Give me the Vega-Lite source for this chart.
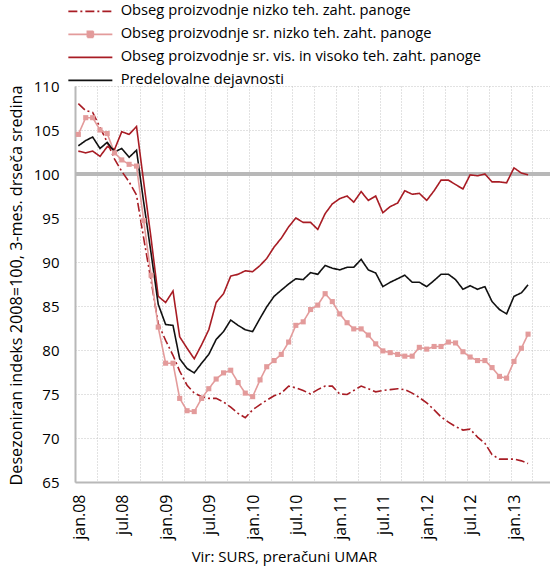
{
  "$schema": "https://vega.github.io/schema/vega-lite/v6.json",
  "width": 475,
  "height": 396,
  "autosize": {"type": "none"},
  "padding": {"left": 75, "top": 86, "right": 0, "bottom": 86},
  "config": {
    "font": "Open Sans",
    "view": {"stroke": null},
    "axis": {"labelColor": "#000", "titleColor": "#000", "titleFontWeight": "normal"}
  },
  "data": {"values": [
    {"month": "2008-01-15", "nizko": 108.0, "srnizko": 104.5, "srvis": 102.6, "predel": 103.2},
    {"month": "2008-02-15", "nizko": 107.2, "srnizko": 106.4, "srvis": 102.4, "predel": 103.8},
    {"month": "2008-03-15", "nizko": 107.0, "srnizko": 106.4, "srvis": 102.6, "predel": 104.2},
    {"month": "2008-04-15", "nizko": 105.3, "srnizko": 105.0, "srvis": 102.0, "predel": 102.9},
    {"month": "2008-05-15", "nizko": 103.6, "srnizko": 104.6, "srvis": 103.1, "predel": 103.6},
    {"month": "2008-06-15", "nizko": 101.7, "srnizko": 102.4, "srvis": 102.8, "predel": 102.5},
    {"month": "2008-07-15", "nizko": 100.3, "srnizko": 101.6, "srvis": 104.8, "predel": 102.9},
    {"month": "2008-08-15", "nizko": 99.1, "srnizko": 101.1, "srvis": 104.5, "predel": 101.9},
    {"month": "2008-09-15", "nizko": 97.6, "srnizko": 100.9, "srvis": 105.4, "predel": 102.7},
    {"month": "2008-10-15", "nizko": 92.7, "srnizko": 94.7, "srvis": 99.1, "predel": 96.8},
    {"month": "2008-11-15", "nizko": 87.9, "srnizko": 88.5, "srvis": 92.7, "predel": 91.0},
    {"month": "2008-12-15", "nizko": 83.0, "srnizko": 82.6, "srvis": 86.1, "predel": 85.2},
    {"month": "2009-01-15", "nizko": 81.1, "srnizko": 78.5, "srvis": 85.4, "predel": 82.9},
    {"month": "2009-02-15", "nizko": 79.4, "srnizko": 78.5, "srvis": 86.7, "predel": 82.8},
    {"month": "2009-03-15", "nizko": 77.6, "srnizko": 74.5, "srvis": 81.5, "predel": 79.0},
    {"month": "2009-04-15", "nizko": 76.0, "srnizko": 73.1, "srvis": 80.2, "predel": 77.9},
    {"month": "2009-05-15", "nizko": 75.1, "srnizko": 73.0, "srvis": 79.0, "predel": 77.4},
    {"month": "2009-06-15", "nizko": 74.7, "srnizko": 74.5, "srvis": 80.6, "predel": 78.5},
    {"month": "2009-07-15", "nizko": 74.5, "srnizko": 75.6, "srvis": 82.3, "predel": 79.5},
    {"month": "2009-08-15", "nizko": 74.5, "srnizko": 76.7, "srvis": 85.4, "predel": 81.2},
    {"month": "2009-09-15", "nizko": 74.1, "srnizko": 77.4, "srvis": 86.4, "predel": 82.1},
    {"month": "2009-10-15", "nizko": 73.5, "srnizko": 77.7, "srvis": 88.4, "predel": 83.4},
    {"month": "2009-11-15", "nizko": 72.8, "srnizko": 76.3, "srvis": 88.6, "predel": 82.8},
    {"month": "2009-12-15", "nizko": 72.3, "srnizko": 75.1, "srvis": 89.0, "predel": 82.3},
    {"month": "2010-01-15", "nizko": 73.2, "srnizko": 74.7, "srvis": 88.9, "predel": 82.1},
    {"month": "2010-02-15", "nizko": 73.8, "srnizko": 76.6, "srvis": 89.6, "predel": 83.6},
    {"month": "2010-03-15", "nizko": 74.3, "srnizko": 78.1, "srvis": 90.4, "predel": 84.9},
    {"month": "2010-04-15", "nizko": 74.8, "srnizko": 78.8, "srvis": 91.7, "predel": 86.1},
    {"month": "2010-05-15", "nizko": 75.1, "srnizko": 79.5, "srvis": 92.7, "predel": 86.8},
    {"month": "2010-06-15", "nizko": 75.9, "srnizko": 80.9, "srvis": 94.0, "predel": 87.5},
    {"month": "2010-07-15", "nizko": 75.7, "srnizko": 82.8, "srvis": 95.0, "predel": 88.1},
    {"month": "2010-08-15", "nizko": 75.4, "srnizko": 83.2, "srvis": 94.5, "predel": 88.0},
    {"month": "2010-09-15", "nizko": 75.0, "srnizko": 84.6, "srvis": 94.5, "predel": 88.8},
    {"month": "2010-10-15", "nizko": 75.5, "srnizko": 85.1, "srvis": 93.7, "predel": 88.6},
    {"month": "2010-11-15", "nizko": 75.9, "srnizko": 86.4, "srvis": 95.5, "predel": 89.6},
    {"month": "2010-12-15", "nizko": 75.9, "srnizko": 85.5, "srvis": 96.6, "predel": 89.3},
    {"month": "2011-01-15", "nizko": 75.0, "srnizko": 84.1, "srvis": 97.2, "predel": 89.1},
    {"month": "2011-02-15", "nizko": 74.95, "srnizko": 83.1, "srvis": 97.5, "predel": 89.4},
    {"month": "2011-03-15", "nizko": 75.4, "srnizko": 82.4, "srvis": 96.8, "predel": 89.4},
    {"month": "2011-04-15", "nizko": 75.9, "srnizko": 82.4, "srvis": 98.0, "predel": 90.3},
    {"month": "2011-05-15", "nizko": 75.6, "srnizko": 81.7, "srvis": 97.0, "predel": 89.1},
    {"month": "2011-06-15", "nizko": 75.25, "srnizko": 80.7, "srvis": 97.5, "predel": 88.75},
    {"month": "2011-07-15", "nizko": 75.4, "srnizko": 79.9, "srvis": 95.6, "predel": 87.2},
    {"month": "2011-08-15", "nizko": 75.5, "srnizko": 79.7, "srvis": 96.3, "predel": 87.7},
    {"month": "2011-09-15", "nizko": 75.6, "srnizko": 79.5, "srvis": 96.7, "predel": 88.1},
    {"month": "2011-10-15", "nizko": 75.5, "srnizko": 79.3, "srvis": 98.1, "predel": 88.5},
    {"month": "2011-11-15", "nizko": 75.1, "srnizko": 79.3, "srvis": 97.7, "predel": 87.7},
    {"month": "2011-12-15", "nizko": 74.6, "srnizko": 80.3, "srvis": 97.8, "predel": 87.7},
    {"month": "2012-01-15", "nizko": 74.0, "srnizko": 80.1, "srvis": 97.0, "predel": 87.2},
    {"month": "2012-02-15", "nizko": 73.2, "srnizko": 80.4, "srvis": 98.1, "predel": 87.9},
    {"month": "2012-03-15", "nizko": 72.4, "srnizko": 80.4, "srvis": 99.3, "predel": 88.6},
    {"month": "2012-04-15", "nizko": 71.8, "srnizko": 80.9, "srvis": 99.3, "predel": 88.6},
    {"month": "2012-05-15", "nizko": 71.3, "srnizko": 80.8, "srvis": 98.8, "predel": 88.0},
    {"month": "2012-06-15", "nizko": 70.9, "srnizko": 79.8, "srvis": 98.3, "predel": 86.9},
    {"month": "2012-07-15", "nizko": 71.0, "srnizko": 79.2, "srvis": 99.9, "predel": 87.3},
    {"month": "2012-08-15", "nizko": 70.1, "srnizko": 78.8, "srvis": 99.8, "predel": 86.9},
    {"month": "2012-09-15", "nizko": 69.4, "srnizko": 78.8, "srvis": 100.0, "predel": 87.2},
    {"month": "2012-10-15", "nizko": 68.1, "srnizko": 78.0, "srvis": 99.1, "predel": 85.5},
    {"month": "2012-11-15", "nizko": 67.6, "srnizko": 77.0, "srvis": 99.1, "predel": 84.6},
    {"month": "2012-12-15", "nizko": 67.6, "srnizko": 76.8, "srvis": 99.0, "predel": 84.1},
    {"month": "2013-01-15", "nizko": 67.6, "srnizko": 78.7, "srvis": 100.7, "predel": 86.1},
    {"month": "2013-02-15", "nizko": 67.4, "srnizko": 80.2, "srvis": 100.1, "predel": 86.5},
    {"month": "2013-03-15", "nizko": 67.1, "srnizko": 81.8, "srvis": 99.9, "predel": 87.4}
  ]},
  "transform": [
    {"fold": ["nizko", "srnizko", "srvis", "predel"], "as": ["key", "value"]}
  ],
  "layer": [
    {
      "mark": {"type": "rule", "color": "#b8b8b8", "strokeWidth": 2.5},
      "encoding": {"y": {"datum": 100, "type": "quantitative"}}
    },
    {
      "mark": {"type": "line", "strokeWidth": 1.6},
      "encoding": {
        "x": {
          "field": "month", "type": "temporal",
          "scale": {"type": "utc", "domain": [{"year": 2008, "month": 1, "date": 1, "utc": true}, {"year": 2013, "month": 6, "date": 15, "utc": true}]},
          "axis": {
            "tickCount": {"interval": "month", "step": 3},
            "grid": true, "gridColor": "#c4c4c4", "gridDash": [1, 2], "gridWidth": 1,
            "ticks": false,
            "domainColor": "#b8b8b8", "domainWidth": 2,
            "labelAngle": -90, "labelAlign": "right", "labelBaseline": "middle",
            "labelOffset": 4, "labelPadding": 12, "labelFontSize": 16,
            "labelOverlap": false, "labelFlush": false,
            "labelExpr": "utcFormat(datum.value,'%m') == '01' ? 'jan.' + utcFormat(datum.value,'%y') : (utcFormat(datum.value,'%m') == '07' ? 'jul.' + utcFormat(datum.value,'%y') : '')",
            "title": "Vir: SURS, preračuni UMAR",
            "titleFontSize": 15, "titleX": 209, "titleY": 74, "titleBaseline": "middle", "titleAnchor": "middle"
          }
        },
        "y": {
          "field": "value", "type": "quantitative",
          "scale": {"domain": [65, 110], "nice": false, "zero": false},
          "axis": {
            "values": [65, 70, 75, 80, 85, 90, 95, 100, 105, 110],
            "grid": true, "gridColor": "#c4c4c4", "gridDash": [1, 2], "gridWidth": 1,
            "ticks": false,
            "domainColor": "#b8b8b8", "domainWidth": 2,
            "labelFontSize": 15, "labelPadding": 16,
            "title": "Desezoniran indeks 2008=100, 3-mes. drseča sredina",
            "titleFontSize": 16.2, "titleX": -59, "titleY": 199, "titleAngle": -90, "titleBaseline": "middle", "titleAnchor": "middle"
          }
        },
        "color": {
          "field": "key", "type": "nominal",
          "scale": {"domain": ["nizko", "srnizko", "srvis", "predel"], "range": ["#a81c24", "#e39b9b", "#a81c24", "#111111"]},
          "legend": {
            "orient": "none", "legendX": 8, "legendY": -82,
            "title": null,
            "labelFontSize": 14.7, "labelColor": "#000", "labelOffset": 23, "labelLimit": 0,
            "rowPadding": 7,
            "symbolSize": 100, "symbolStrokeWidth": 1.6,
            "labelExpr": "datum.value == 'nizko' ? 'Obseg proizvodnje nizko teh. zaht. panoge' : datum.value == 'srnizko' ? 'Obseg proizvodnje sr. nizko teh. zaht. panoge' : datum.value == 'srvis' ? 'Obseg proizvodnje sr. vis. in visoko teh. zaht. panoge' : 'Predelovalne dejavnosti'",
            "encode": {"symbols": {"update": {
              "shape": {"signal": "datum.value === 'srnizko' ? 'M-4.4,0H4.4M-0.6,-0.6H0.6V0.6H-0.6Z' : 'M-4.4,0H4.4'"},
              "fill": {"signal": "datum.value === 'srnizko' ? '#e39b9b' : 'transparent'"}
            }}}
          }
        },
        "strokeDash": {
          "field": "key", "type": "nominal",
          "scale": {"domain": ["nizko", "srnizko", "srvis", "predel"], "range": [[9, 3, 2, 3], [1, 0], [1, 0], [1, 0]]},
          "legend": {
            "orient": "none", "legendX": 8, "legendY": -82,
            "title": null,
            "labelFontSize": 14.7, "labelColor": "#000", "labelOffset": 23, "labelLimit": 0,
            "rowPadding": 7,
            "symbolSize": 100, "symbolStrokeWidth": 1.6,
            "labelExpr": "datum.value == 'nizko' ? 'Obseg proizvodnje nizko teh. zaht. panoge' : datum.value == 'srnizko' ? 'Obseg proizvodnje sr. nizko teh. zaht. panoge' : datum.value == 'srvis' ? 'Obseg proizvodnje sr. vis. in visoko teh. zaht. panoge' : 'Predelovalne dejavnosti'",
            "encode": {"symbols": {"update": {
              "shape": {"signal": "datum.value === 'srnizko' ? 'M-4.4,0H4.4M-0.6,-0.6H0.6V0.6H-0.6Z' : 'M-4.4,0H4.4'"},
              "fill": {"signal": "datum.value === 'srnizko' ? '#e39b9b' : 'transparent'"}
            }}}
          }
        }
      }
    },
    {
      "transform": [{"filter": "datum.key == 'srnizko'"}],
      "mark": {"type": "point", "shape": "square", "filled": true, "size": 26, "opacity": 1, "color": "#e39b9b"},
      "encoding": {
        "x": {"field": "month", "type": "temporal"},
        "y": {"field": "value", "type": "quantitative"}
      }
    }
  ]
}
